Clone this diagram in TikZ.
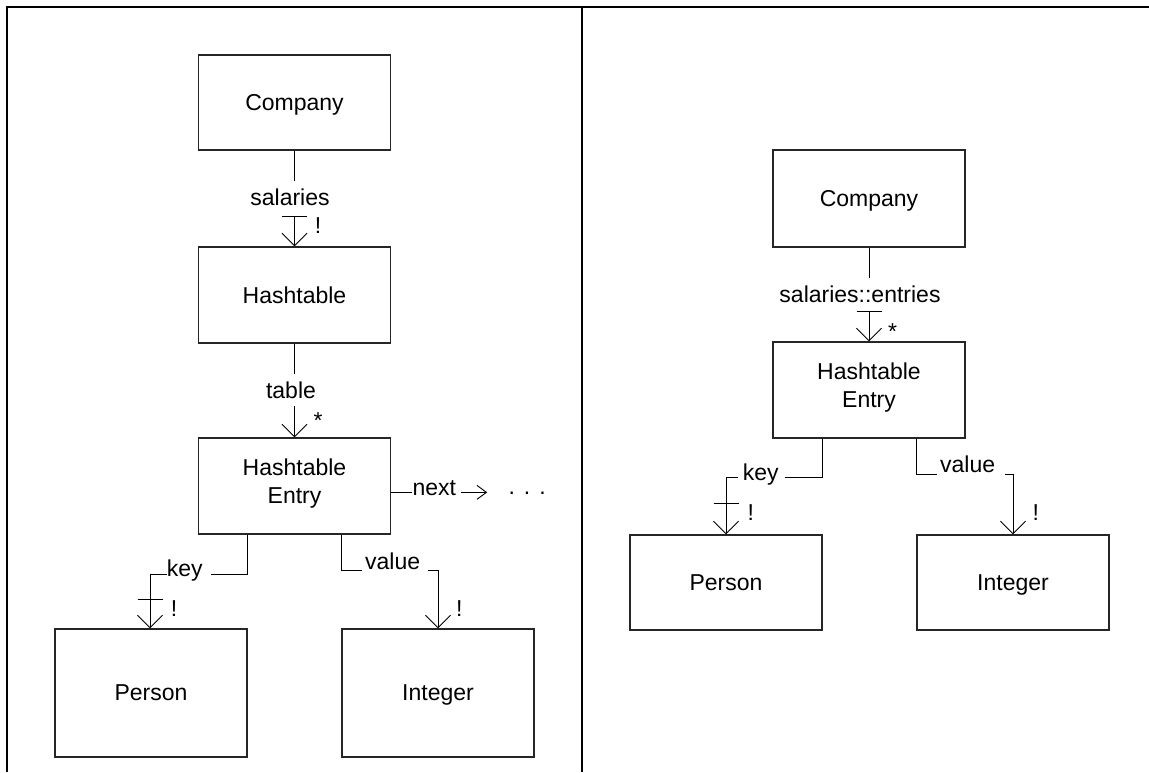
\documentclass[tikz,border=0pt]{standalone}
\usepackage{fontspec}
\setmainfont{Liberation Sans}
\usetikzlibrary{arrows.meta}
\begin{document}
\begin{tikzpicture}[x=1pt,y=-1pt,
  every node/.style={font=\fontsize{23}{27.6}\selectfont, inner sep=0pt},
  cls/.style={draw=black!85, line width=1.4pt, minimum width=192pt,
    minimum height=96pt, align=center},
  oneline/.style={cls, text depth=0pt},
  link/.style={line width=0.9pt, black},
  nav/.style={link, -{Straight Barb[length=12.5pt,width=25pt]}},
  navsmall/.style={link, -{Straight Barb[length=9.5pt,width=14pt]}},
  frame/.style={line width=2pt, black},
  lbl/.style={anchor=base},
  mult/.style={anchor=base},
]
\useasboundingbox (0,0) rectangle (1149,772);

% panel frame
\draw[frame] (7,772) -- (7,7) -- (1149,7);
\draw[frame] (582,7) -- (582,772);

% ---------- left panel ----------
\node[oneline, minimum height=95pt] (C1) at (294.5,102.5) {Company};
\node[oneline] (H1) at (294.5,295) {Hashtable};
\node[cls] (E1) at (294.5,486) {Hashtable\\Entry\rule[-9.5pt]{0pt}{0pt}};
\node[oneline, minimum height=128pt] (P1) at (151,693) {Person};
\node[oneline, minimum height=128pt] (I1) at (438,693) {Integer};

% salaries
\node[lbl] (s1) at (290,205.7) {salaries};
\draw[link] (C1.south) -- ++(0,30);
\draw[nav] ([yshift=30pt]H1.north) -- (H1.north);
\draw[link] ([xshift=-12.5pt,yshift=30pt]H1.north) -- ([xshift=12.5pt,yshift=30pt]H1.north);
\node[mult] (s1m) at (318,233.5) {!};

% table
\node[lbl] (t1) at (291,398.3) {table};
\draw[link] (H1.south) -- ++(0,30);
\draw[nav] ([yshift=31pt]E1.north) -- (E1.north);
\node[mult] (t1m) at (318,428) {*};

% next
\node[anchor=base west] (n1) at (412.3,495) {next};
\draw[link] (E1.east |- n1.mid) -- (n1.mid west);
\draw[navsmall] ([xshift=5pt]n1.mid east) -- ++(26,0);
\node[anchor=base west] (d1) at (508.5,494) {.\hspace{8.9pt}.\hspace{8.9pt}.};

% key
\node[anchor=base west] (k1) at (166.7,576.7) {key};
\draw[link] (E1.south -| P1.east) |- ([xshift=8pt]k1.mid east);
\draw[nav] (k1.mid west) -| ([xshift=-1pt]P1.north);
\draw[link] ([xshift=-13.5pt,yshift=29pt]P1.north) -- ([xshift=11.5pt,yshift=29pt]P1.north);
\node[mult] (k1m) at (174,616) {!};

% value
\node[anchor=base west] (v1) at (365,569.3) {value};
\draw[link] (E1.south -| I1.west) |- ([xshift=-3.3pt,yshift=-1.4pt]v1.base west);
\draw[nav] ([xshift=8pt,yshift=-1.4pt]v1.base east) -| (I1.north);
\node[mult] (v1m) at (459.3,616) {!};

% ---------- right panel ----------
\node[oneline, minimum height=97pt] (C2) at (869,198.5) {Company};
\node[cls] (E2) at (869,390) {Hashtable\\Entry\rule[-9.5pt]{0pt}{0pt}};
\node[oneline, minimum height=95pt] (P2) at (726,582.5) {Person};
\node[oneline, minimum height=95pt] (I2) at (1013,582.5) {Integer};

% salaries::entries
\node[lbl] (s2) at (860,302.7) {salaries::entries};
\draw[link] (C2.south) -- ++(0,30);
\draw[nav] ([yshift=30pt]E2.north) -- (E2.north);
\draw[link] ([xshift=-12.5pt,yshift=30pt]E2.north) -- ([xshift=12.5pt,yshift=30pt]E2.north);
\node[mult] (s2m) at (892.7,339) {*};

% key
\node[anchor=base west] (k2) at (742.7,480) {key};
\draw[link] (E2.south -| P2.east) |- ([xshift=6.5pt]k2.mid east);
\draw[nav] ([xshift=-4.5pt]k2.mid west) -| (P2.north);
\draw[link] ([xshift=-12.5pt,yshift=31pt]P2.north) -- ([xshift=12.5pt,yshift=31pt]P2.north);
\node[mult] (k2m) at (750.7,520) {!};

% value
\node[anchor=base west] (v2) at (940,472.7) {value};
\draw[link] (E2.south -| I2.west) |- ([xshift=-3.3pt,yshift=-1.3pt]v2.base west);
\draw[nav] ([xshift=9.5pt,yshift=-1.3pt]v2.base east) -| (I2.north);
\node[mult] (v2m) at (1035.7,520) {!};
\end{tikzpicture}
\end{document}
